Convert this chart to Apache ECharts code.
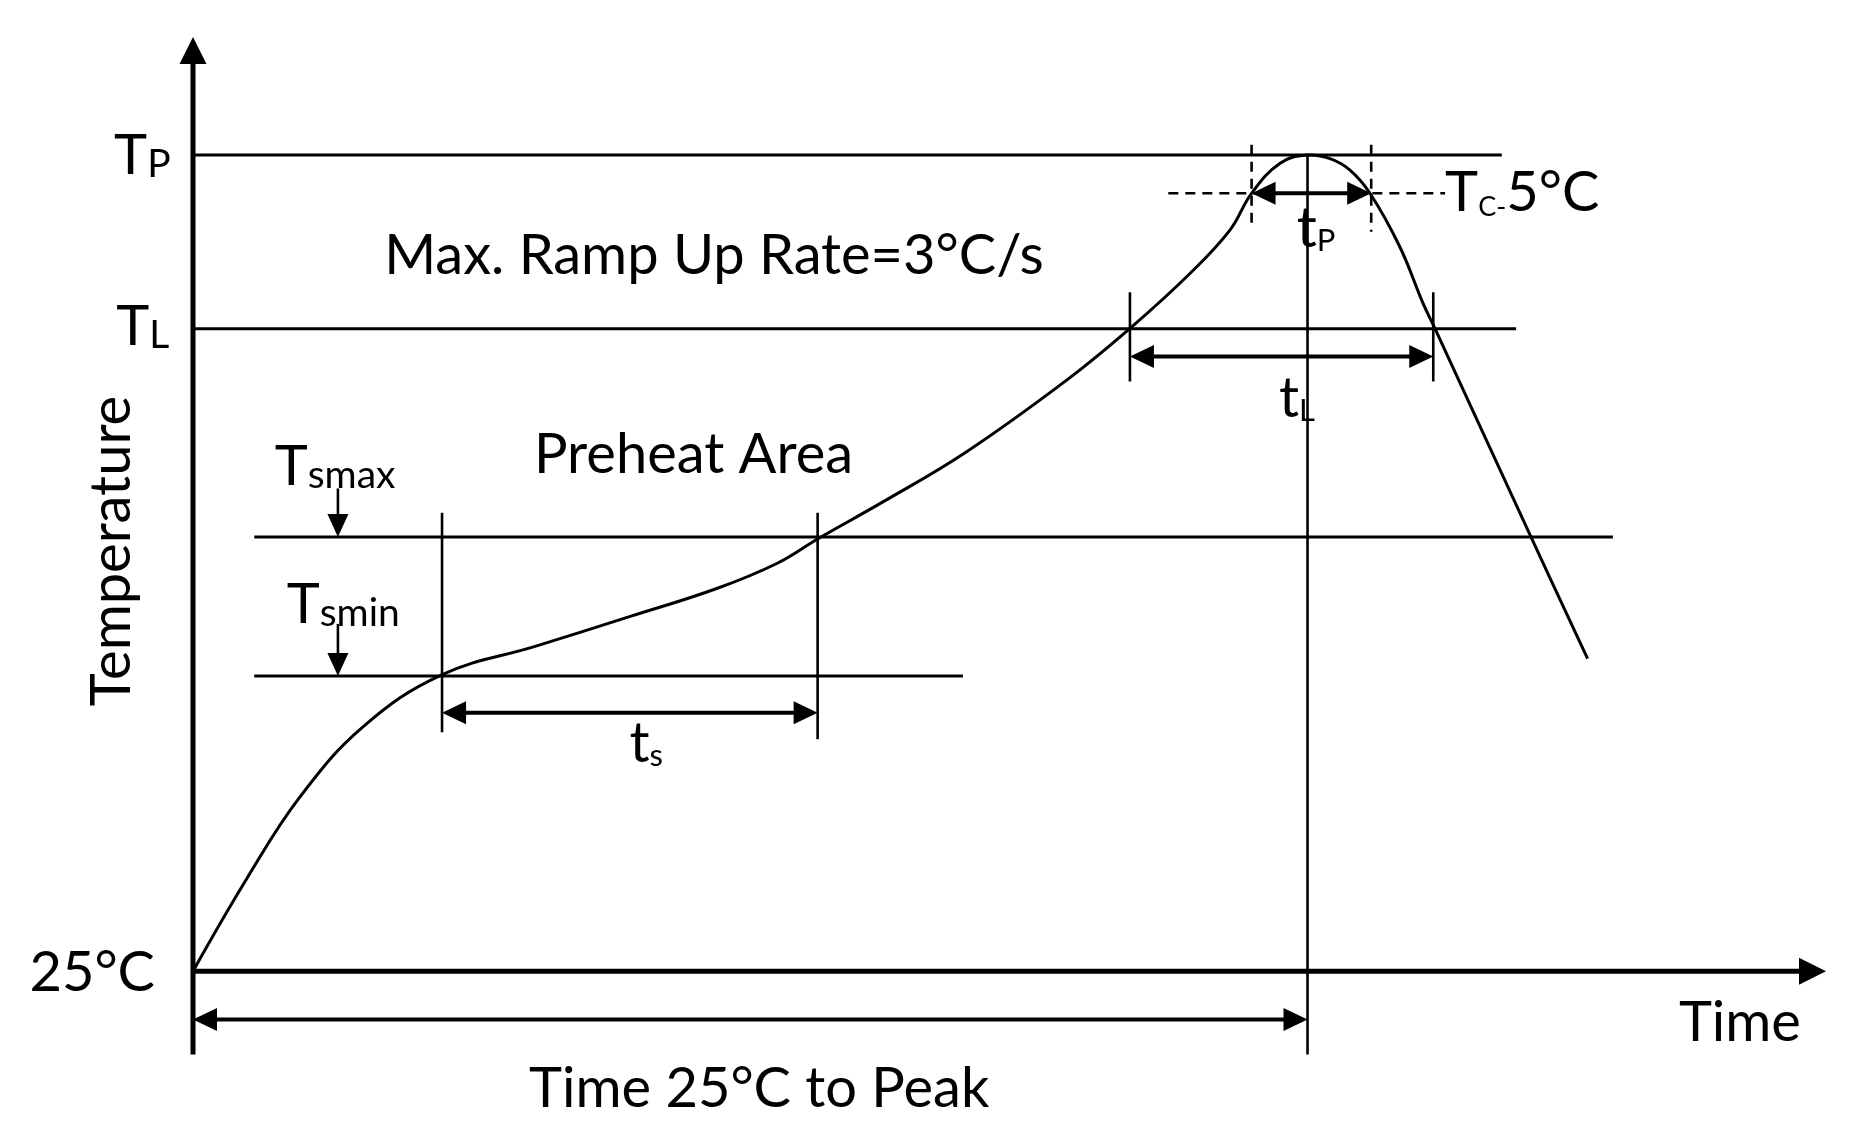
<!DOCTYPE html>
<html>
<head>
<meta charset="utf-8">
<script src="https://cdn.jsdelivr.net/npm/echarts@6/dist/echarts.min.js"></script>
<style>
html,body{margin:0;padding:0;background:#ffffff;}
#c{width:1869px;height:1135px;}
</style>
</head>
<body>
<div id="c"></div>
<script>
// ---------------- DATA ----------------
// Reflow profile curve (time units, temperature units)
const profileTime = [0, 13.2, 26.2, 41.7, 60.9, 84.0, 107.5, 128.3, 143.0, 153.2, 169.1, 189.5, 214.0, 229.8, 244.2, 254.0, 259.3, 266.2, 272.8, 278.5, 283.4, 288.3, 295.6, 301.3, 304.2, 327.9, 341.6];
const profileTemp = [25, 51.7, 75.2, 95.4, 110.3, 118.6, 127.3, 135.2, 142.4, 149.6, 160.2, 174.6, 195.2, 210.4, 225.9, 238.4, 249.0, 257.6, 260.0, 259.0, 255.7, 249.0, 233.6, 217.3, 210.1, 149.6, 115];

// Axes: [x1, y1, x2, y2]
const axisSegments = [[0, 1, 0, 294], [0, 25, 400, 25]];
// Temperature level lines (TP, TL, Tsmax, Tsmin)
const levelSegments = [[0, 260, 320.6, 260], [0, 210, 324.1, 210], [15, 150, 347.8, 150], [15, 110, 188.6, 110]];
// Vertical marker lines (peak, ts start/end, tL start/end)
const markerSegments = [[273, 260, 273, 1], [61, 157, 61, 93.8], [153, 157, 153, 91.8], [229.5, 220.5, 229.5, 194.8], [303.8, 220.5, 303.8, 194.8]];
// Dashed lines (TC-5°C level, tP bounds)
const dashedSegments = [[238.9, 249, 306.7, 249], [259.3, 263, 259.3, 239.4], [288.6, 263, 288.6, 237.9]];
// Double-headed span arrows (ts, tL, tP, time 25°C to peak)
const spanArrows = [[61, 99.4, 153, 99.4], [229.5, 202, 303.8, 202], [259.3, 249, 288.6, 249], [0, 11.1, 273, 11.1]];
// Down arrows (Tsmax, Tsmin)
const downArrows = [[35.5, 164, 35.5, 150], [35.5, 125, 35.5, 110]];

// Labels
const labelTexts = [
  '{b|T}{s|P}', '{b|T}{s|L}', '{b|25°C}', '{b|Temperature}', '{b|Time}',
  '{b|Time 25°C to Peak}', '{b|Max. Ramp Up Rate=3°C/s}', '{b|Preheat Area}',
  '{b|T}{s|smax}', '{b|T}{s|smin}', '{b|t}{s2|s}', '{b|t}{s2|L}', '{b|t}{s2|P}',
  '{b|T}{s3|C-}{b|5°C}'
];
const labelTime = [-5.5, -5.8, -9.3, -21, 378.9, 138.7, 127.6, 122.6, 34.8, 36.8, 111, 270.4, 275.1, 306.7];
const labelTemp = [261.2, 212, 25.8, 146, 11.5, -7.4, 232.5, 175.2, 171.6, 131.8, 92, 191.3, 240.3, 250.5];

// ---------------- RENDER ----------------
const FONT = 'Lato, "Open Sans", sans-serif';
const chart = echarts.init(document.getElementById('c'));

function tok(fs) {
  return { fontSize: fs, fontFamily: FONT, fill: '#000', verticalAlign: 'bottom', lineHeight: 66 - 0.4 * (56 - fs) };
}
const RICH = { b: tok(56), s: tok(39), s2: tok(31), s3: tok(27) };

const labelAlign = ['right', 'right', 'right', 'center', 'center', 'center', 'center', 'center', 'center', 'center', 'center', 'center', 'center', 'left'];
const labelRot = [0, 0, 0, Math.PI / 2, 0, 0, 0, 0, 0, 0, 0, 0, 0, 0];

const kinds = [
  { w: 5, head: [false, true], hl: 27, hw: 27 },
  { w: 3 },
  { w: 2.6 },
  { w: 2.6, dash: [10, 7] },
  { w: 4, head: [true, true], hl: 24, hw: 23 },
  { w: 2.6, head: [false, true], hl: 23, hw: 21 }
];

function tag(arr, k) { return arr.map(function (s) { return [s[0], s[1], s[2], s[3], k]; }); }
const segData = [].concat(
  tag(axisSegments, 0), tag(levelSegments, 1), tag(markerSegments, 2),
  tag(dashedSegments, 3), tag(spanArrows, 4), tag(downArrows, 5)
);
const labelData = labelTexts.map(function (t, i) { return [labelTime[i], labelTemp[i]]; });
const profileData = profileTime.map(function (t, i) { return [t, profileTemp[i]]; });

function renderSeg(params, api) {
  const k = kinds[api.value(4)];
  const p1 = api.coord([api.value(0), api.value(1)]);
  const p2 = api.coord([api.value(2), api.value(3)]);
  const dx = p2[0] - p1[0], dy = p2[1] - p1[1];
  const len = Math.hypot(dx, dy) || 1;
  const ux = dx / len, uy = dy / len;
  let a = p1, b = p2;
  if (k.head && k.head[0]) a = [p1[0] + ux * k.hl * 0.5, p1[1] + uy * k.hl * 0.5];
  if (k.head && k.head[1]) b = [p2[0] - ux * k.hl * 0.5, p2[1] - uy * k.hl * 0.5];
  const children = [{
    type: 'line',
    shape: { x1: a[0], y1: a[1], x2: b[0], y2: b[1] },
    style: { stroke: '#000', lineWidth: k.w, lineDash: k.dash || null, lineCap: 'butt' }
  }];
  function head(tip, ex, ey) {
    const bx = tip[0] - ex * k.hl, by = tip[1] - ey * k.hl;
    const nx = -ey, ny = ex;
    return {
      type: 'polygon',
      shape: { points: [[tip[0], tip[1]], [bx + nx * k.hw / 2, by + ny * k.hw / 2], [bx - nx * k.hw / 2, by - ny * k.hw / 2]] },
      style: { fill: '#000' }
    };
  }
  if (k.head && k.head[1]) children.push(head(p2, ux, uy));
  if (k.head && k.head[0]) children.push(head(p1, -ux, -uy));
  return { type: 'group', children: children };
}

// The whole profile is drawn once (on the first item) as one smooth polyline
function renderProfile(params, api) {
  if (params.dataIndex !== 0) return null;
  const pts = profileData.map(function (d) { return api.coord(d); });
  return {
    type: 'polyline',
    shape: { points: pts, smooth: 0.4 },
    style: { stroke: '#000', lineWidth: 3, fill: null, lineJoin: 'round' }
  };
}

function renderLabel(params, api) {
  const i = params.dataIndex;
  const p = api.coord([api.value(0), api.value(1)]);
  return {
    type: 'text',
    x: p[0], y: p[1],
    rotation: labelRot[i],
    style: {
      text: labelTexts[i], rich: RICH, fontFamily: FONT, fontSize: 56, fill: '#000',
      align: labelAlign[i], verticalAlign: 'middle'
    }
  };
}

chart.setOption({
  backgroundColor: '#ffffff',
  animation: false,
  grid: { left: 193, right: 43, top: 37, bottom: 77, containLabel: false },
  xAxis: { type: 'value', min: 0, max: 400, show: false },
  yAxis: { type: 'value', min: 0, max: 294, show: false },
  series: [
    {
      type: 'custom',
      data: profileData,
      renderItem: renderProfile,
      clip: false,
      z: 3
    },
    {
      type: 'custom',
      data: segData,
      renderItem: renderSeg,
      clip: false,
      z: 2
    },
    {
      type: 'custom',
      data: labelData,
      renderItem: renderLabel,
      clip: false,
      z: 4
    }
  ]
});
</script>
</body>
</html>
